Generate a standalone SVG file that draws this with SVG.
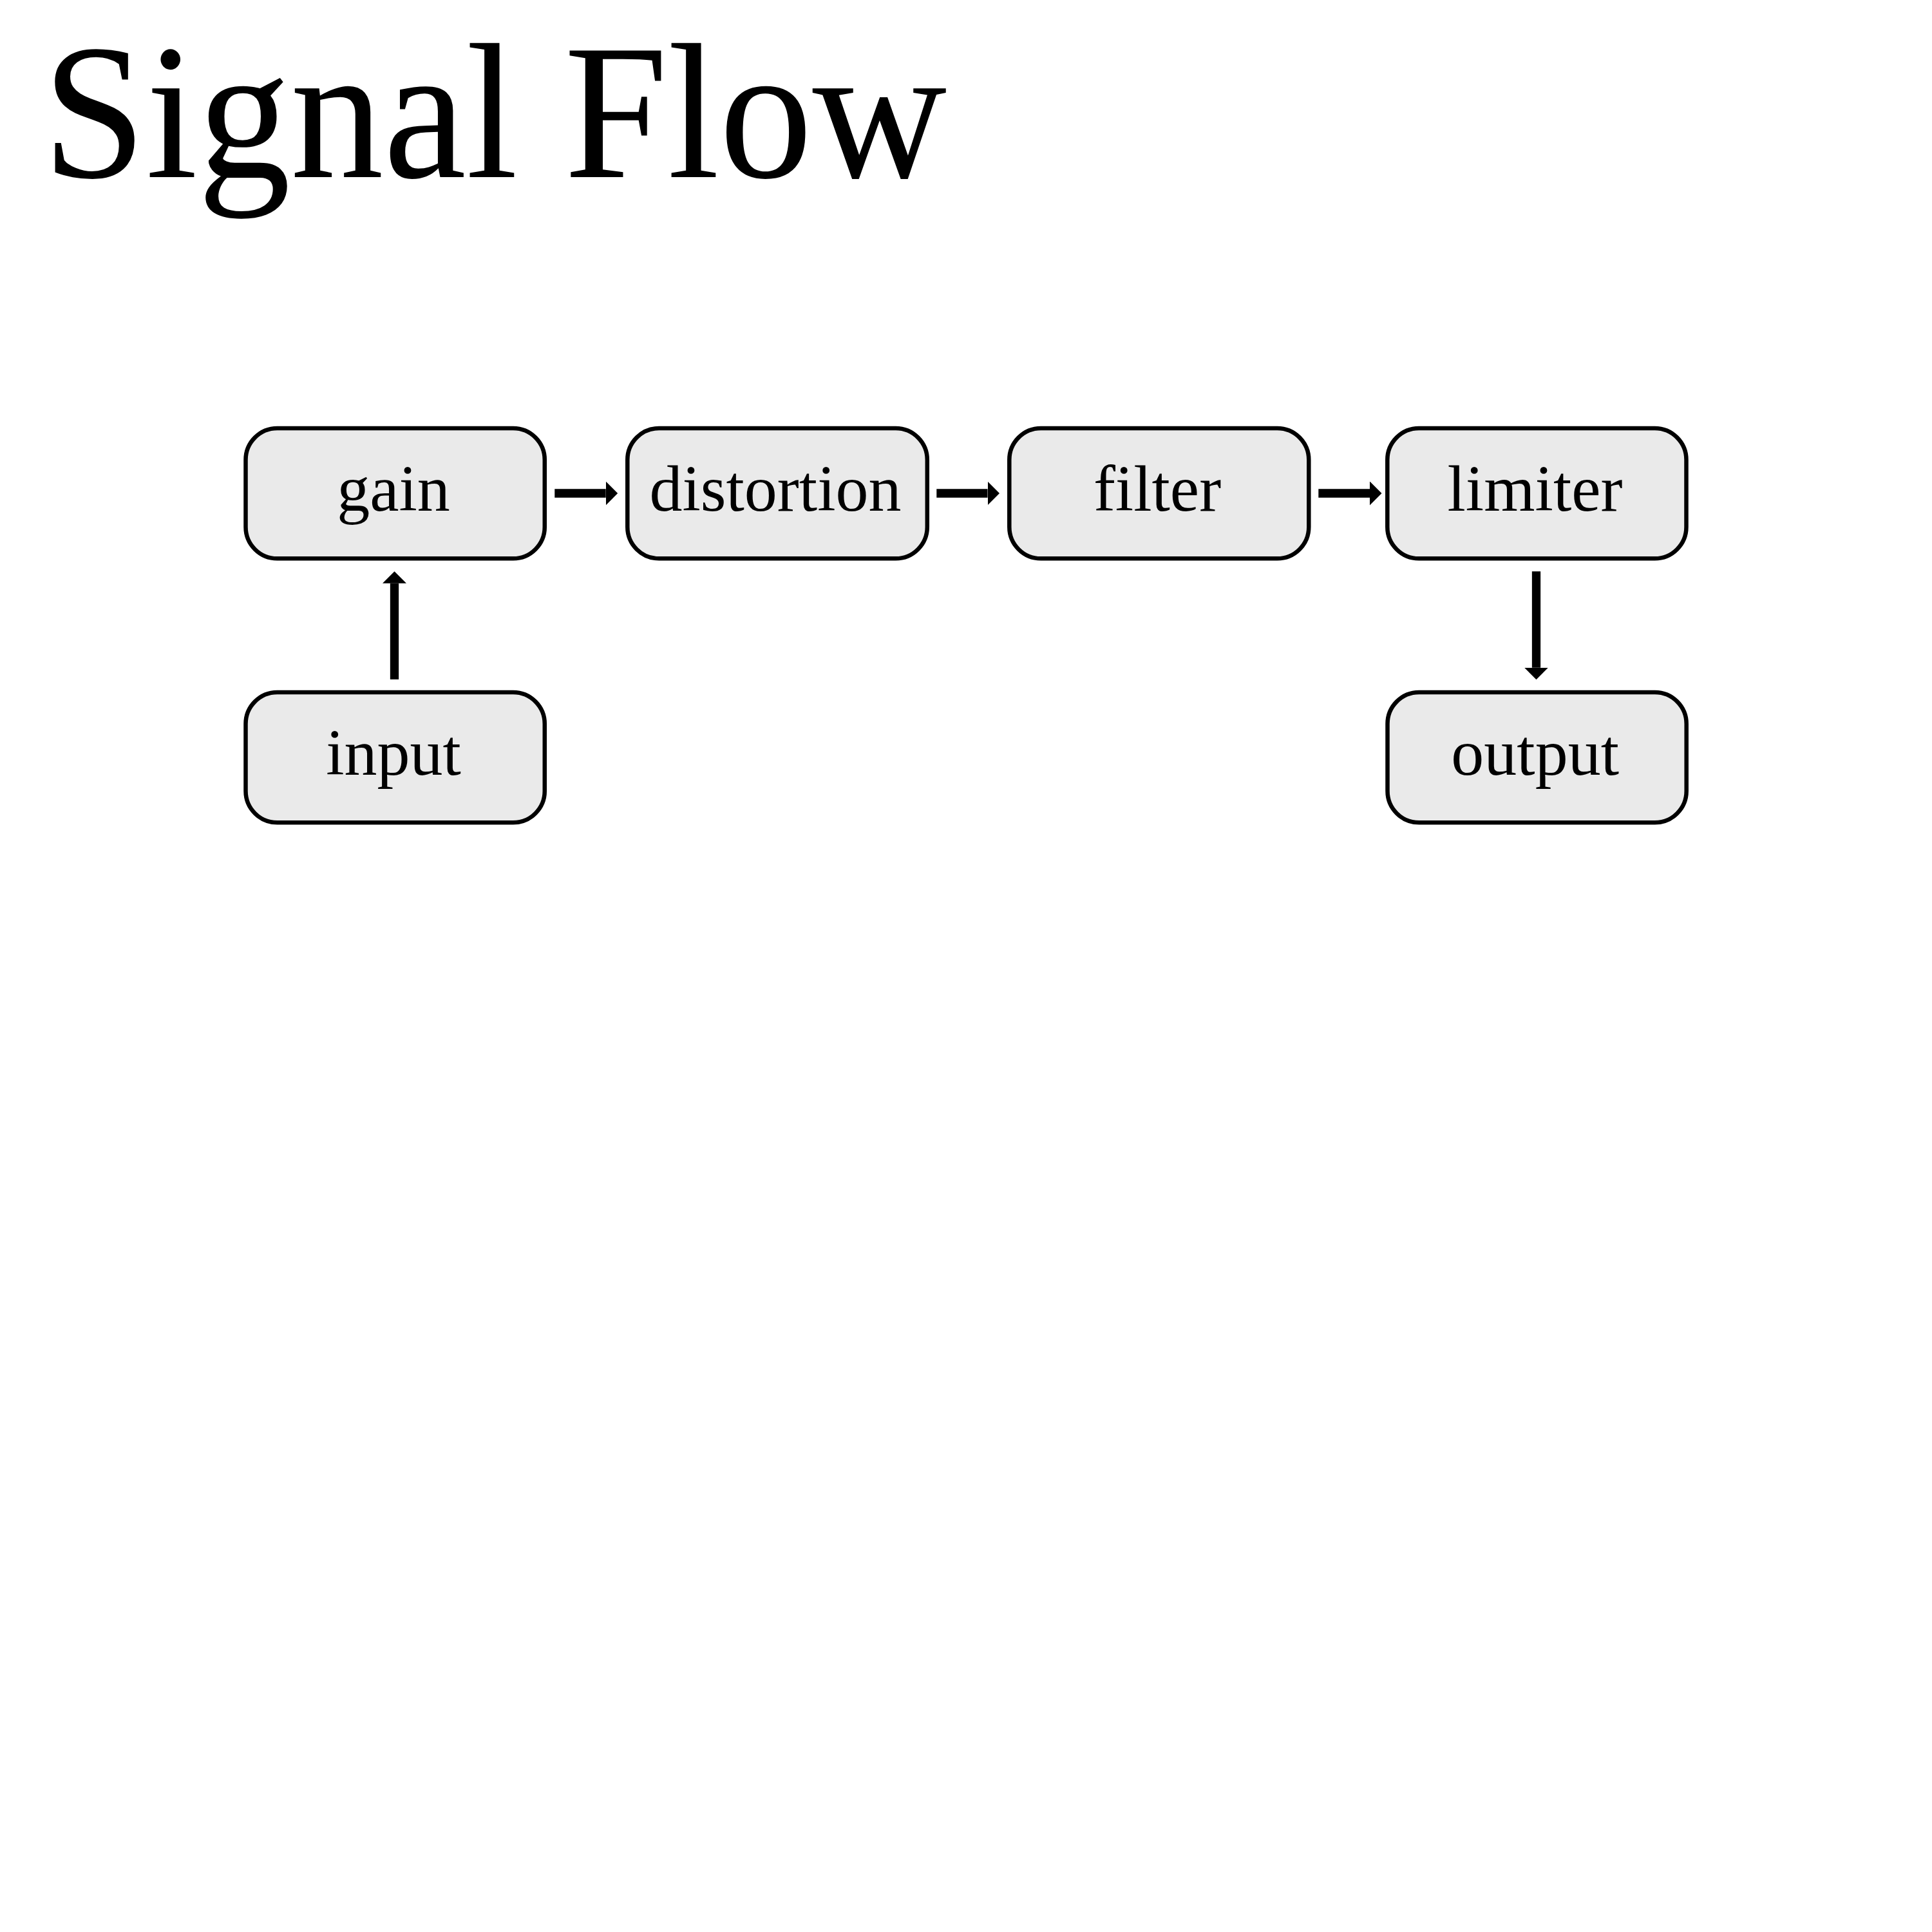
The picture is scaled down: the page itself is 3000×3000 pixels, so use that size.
<svg xmlns="http://www.w3.org/2000/svg" width="3000" height="3000" viewBox="0 0 3000 3000">
<style>
.node rect{fill:#eaeaea;stroke:#000;stroke-width:6.5}
.node text{font-family:"Liberation Serif","Times New Roman",serif;font-size:102px;fill:#000;text-anchor:middle}
.title{font-family:"Liberation Serif","Times New Roman",serif;font-size:300px;fill:#000}
.edge{stroke:#000;stroke-width:13.3;fill:none;marker-end:url(#head)}
</style>
<defs>
<marker id="head" markerUnits="userSpaceOnUse" viewBox="0 0 19 37" refX="0" refY="18.5" markerWidth="19" markerHeight="37" orient="auto">
<path d="M0,0 L18.5,18.5 L0,37 z" fill="#000"/>
</marker>
</defs>
<rect width="3000" height="3000" fill="#fff"/>
<text class="title" x="66" y="275" textLength="1404" lengthAdjust="spacingAndGlyphs">Signal Flow</text>
<g id="connectors">
<path class="edge" d="M861.3,766 H940.7"/>
<path class="edge" d="M1454.3,766 H1533.5"/>
<path class="edge" d="M2047.3,766 H2127"/>
<path class="edge" d="M612.5,1055 V905.7"/>
<path class="edge" d="M2385.5,887.3 V1036.7"/>
</g>
<g id="gain" class="node"><rect x="381.5" y="665" width="464.3" height="202.3" rx="49"/><text x="611" y="793">gain</text></g>
<g id="distortion" class="node"><rect x="974.3" y="665" width="465.5" height="202.3" rx="49"/><text x="1204" y="793">distortion</text></g>
<g id="filter" class="node"><rect x="1567.3" y="665" width="465" height="202.3" rx="49"/><text x="1797" y="793">filter</text></g>
<g id="limiter" class="node"><rect x="2154.3" y="665" width="464.2" height="202.3" rx="49"/><text x="2383.5" y="793">limiter</text></g>
<g id="input" class="node"><rect x="381.5" y="1075" width="464.3" height="202.3" rx="49"/><text x="611" y="1203">input</text></g>
<g id="output" class="node"><rect x="2154.5" y="1075" width="464.2" height="202.3" rx="49"/><text x="2383.7" y="1203">output</text></g>
</svg>
